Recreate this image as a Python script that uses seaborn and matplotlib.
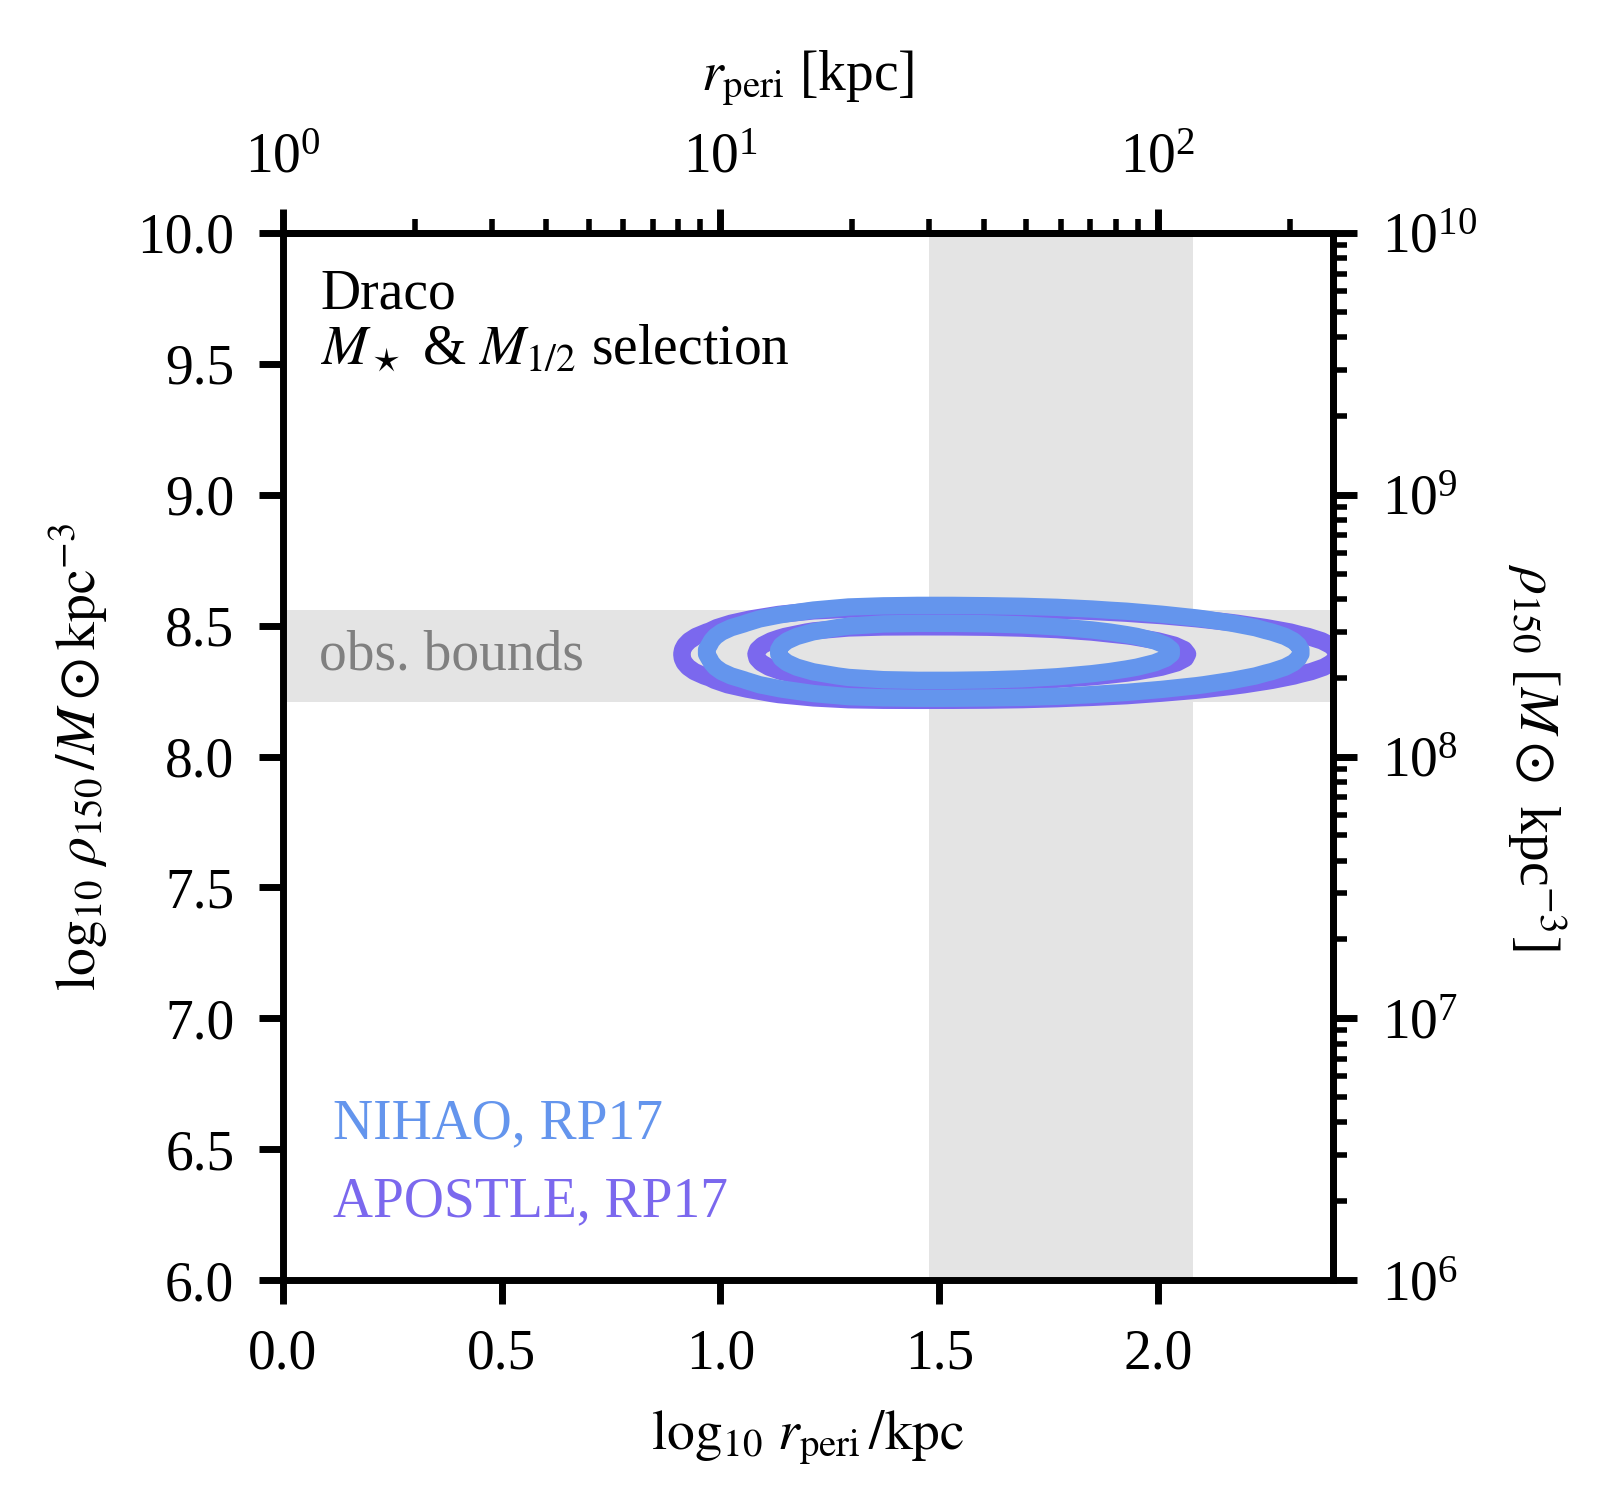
import numpy as np
import pandas as pd
import matplotlib
matplotlib.use("Agg")
import matplotlib.pyplot as plt
import seaborn as sns
from matplotlib.ticker import (MultipleLocator, LogLocator, FixedLocator, LogFormatterMathtext,
                               NullFormatter, FormatStrFormatter)

# ---------------- data ----------------
# lattice of sample positions with marginal density weights
log_rperi_grid = [0.7, 0.8, 0.9, 1.0, 1.1, 1.2, 1.3, 1.4, 1.5, 1.6,
                  1.7, 1.8, 1.9, 2.0, 2.1, 2.2, 2.3, 2.4, 2.5, 2.6]
log_rho_grid = [8.200, 8.225, 8.250, 8.275, 8.300, 8.325, 8.350, 8.375, 8.400,
                8.425, 8.450, 8.475, 8.500, 8.525, 8.550, 8.575, 8.600]

nihao_rperi_weight = [0.0002, 0.002, 0.012, 0.060, 0.230, 0.540, 0.872, 1.0, 1.0, 0.979,
                      0.882, 0.730, 0.553, 0.385, 0.245, 0.140, 0.066, 0.030, 0.013, 0.005]
nihao_rho_weight = [0.023, 0.057, 0.121, 0.231, 0.391, 0.590, 0.791, 0.943, 1.0,
                    0.943, 0.791, 0.590, 0.391, 0.231, 0.121, 0.057, 0.023]
apostle_rperi_weight = [0.0004, 0.004, 0.028, 0.129, 0.391, 0.773, 0.998, 1.0, 1.0, 0.993,
                        0.923, 0.795, 0.634, 0.467, 0.319, 0.202, 0.118, 0.064, 0.032, 0.015]
apostle_rho_weight = [0.034, 0.078, 0.159, 0.289, 0.468, 0.673, 0.861, 0.979, 0.991,
                      0.891, 0.713, 0.508, 0.321, 0.181, 0.091, 0.040, 0.016]

sim_names = ["APOSTLE, RP17", "NIHAO, RP17"]
sim_colors = {"NIHAO, RP17": "#6495ED", "APOSTLE, RP17": "#7B68EE"}

obs_rho_bounds = [8.21, 8.56]          # log10 rho150
obs_rperi_bounds = [1.477, 2.079]      # log10 r_peri

xlim = [0.0, 2.4]
ylim = [6.0, 10.0]
contour_levels = [0.05, 0.32]
top_ticks = [1, 10, 100]
right_ticks = [1e6, 1e7, 1e8, 1e9, 1e10]

# ---------------- build table ----------------
def build(name, wx, wy):
    X, Y = np.meshgrid(log_rperi_grid, log_rho_grid)
    WX, WY = np.meshgrid(wx, wy)
    return pd.DataFrame({"log_rperi": X.ravel(), "log_rho": Y.ravel(),
                         "w": (WX * WY).ravel(), "sim": name})

df = pd.concat([build("APOSTLE, RP17", apostle_rperi_weight, apostle_rho_weight),
                build("NIHAO, RP17", nihao_rperi_weight, nihao_rho_weight)],
               ignore_index=True)

# ---------------- style ----------------
sns.set_style("ticks")
plt.rcParams["font.family"] = ["Liberation Serif", "DejaVu Serif"]
plt.rcParams["mathtext.fontset"] = "stix"
plt.rcParams["font.size"] = 8
plt.rcParams["text.color"] = "black"
plt.rcParams["axes.labelcolor"] = "black"
plt.rcParams["axes.linewidth"] = 1.0
plt.rcParams["xtick.major.width"] = 1.0
plt.rcParams["ytick.major.width"] = 1.0
plt.rcParams["xtick.minor.width"] = 0.8
plt.rcParams["ytick.minor.width"] = 0.8
plt.rcParams["xtick.labelsize"] = 8
plt.rcParams["ytick.labelsize"] = 8
plt.rcParams["axes.labelsize"] = 8
plt.rcParams["xtick.color"] = "black"
plt.rcParams["ytick.color"] = "black"
plt.rcParams["axes.edgecolor"] = "black"

fig = plt.figure(figsize=(3.23, 3.024), dpi=500)
ax = fig.add_axes([0.1752, 0.1534, 0.6502, 0.6925])

ax.axvspan(obs_rperi_bounds[0], obs_rperi_bounds[1], color="#e4e4e4", lw=0, zorder=0)
ax.axhspan(obs_rho_bounds[0], obs_rho_bounds[1], color="#e4e4e4", lw=0, zorder=0)

for name in sim_names:
    sub = df[df["sim"] == name]
    sns.kdeplot(data=sub, x="log_rperi", y="log_rho", weights="w",
                levels=contour_levels, color=sim_colors[name], bw_adjust=0.55,
                linewidths=2.5, gridsize=34, ax=ax)

ax.set_xlim(*xlim)
ax.set_ylim(*ylim)
ax.xaxis.set_major_locator(MultipleLocator(0.5))
ax.yaxis.set_major_locator(MultipleLocator(0.5))
ax.xaxis.set_major_formatter(FormatStrFormatter("%.1f"))
ax.yaxis.set_major_formatter(FormatStrFormatter("%.1f"))
ax.tick_params(top=False, right=False, direction="out", length=3.5)

ax.set_xlabel(r"$\log_{10}\,r_{\rm peri}\,/{\rm kpc}$")
ax.set_ylabel(r"$\log_{10}\,\rho_{150}\,/M\odot{\rm kpc}^{-3}$")

# secondary axes
top = ax.secondary_xaxis("top", functions=(lambda x: 10 ** x,
                                            lambda x: np.log10(np.clip(x, 1e-30, None))))
top.xaxis.set_major_locator(FixedLocator(top_ticks))
top.xaxis.set_minor_locator(LogLocator(base=10, subs=np.arange(2, 10)))
top.xaxis.set_major_formatter(LogFormatterMathtext())
top.xaxis.set_minor_formatter(NullFormatter())
top.set_xlabel(r"$r_{\rm peri}$ [kpc]", labelpad=6)
top.tick_params(which="major", length=3.5, width=1.0)
top.tick_params(which="minor", length=2.0, width=0.8)

right = ax.secondary_yaxis("right", functions=(lambda y: 10 ** y,
                                                lambda y: np.log10(np.clip(y, 1e-30, None))))
right.yaxis.set_major_locator(FixedLocator(right_ticks))
right.yaxis.set_minor_locator(LogLocator(base=10, subs=np.arange(2, 10)))
right.yaxis.set_major_formatter(LogFormatterMathtext())
right.yaxis.set_minor_formatter(NullFormatter())
right.set_ylabel(r"$\rho_{150}$ [$M\odot$ kpc$^{-3}$]", rotation=270, va="bottom", labelpad=4)
right.tick_params(which="major", length=3.5, width=1.0)
right.tick_params(which="minor", length=2.0, width=0.8)

# annotations
ax.text(0.085, 9.71, "Draco", fontsize=8, va="baseline")
ax.text(0.085, 9.50, r"$M_\star$ & $M_{1/2}$ selection", fontsize=8, va="baseline")
ax.text(0.083, np.mean(obs_rho_bounds), "obs. bounds", color="gray", fontsize=8, va="center")
ax.text(0.114, 6.543, "NIHAO, RP17", color=sim_colors["NIHAO, RP17"], fontsize=8, va="baseline")
ax.text(0.114, 6.245, "APOSTLE, RP17", color=sim_colors["APOSTLE, RP17"], fontsize=8, va="baseline")

fig.savefig("out.png", dpi=500)
